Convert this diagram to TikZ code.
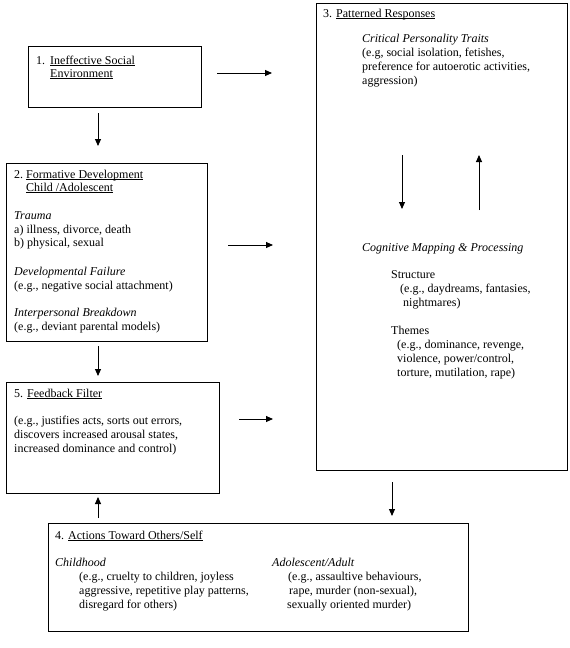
\documentclass[tikz,border=0pt]{standalone}
\usepackage{fontspec}
\setmainfont{Liberation Serif}
\usetikzlibrary{arrows.meta}
\newcommand\myul[1]{\underline{\smash{#1}}}
\begin{document}
\begin{tikzpicture}[x=1pt,y=-1pt,
  box/.style={draw,line width=1.1pt,rectangle,anchor=north west,inner sep=0pt},
  txt/.style={anchor=base west,inner sep=0pt,font=\fontsize{12}{14}\selectfont},
  itx/.style={txt,font=\fontsize{12}{14}\selectfont\itshape},
  arr/.style={line width=0.9pt,-{Triangle[length=7pt,width=6pt]}}]
\useasboundingbox (0,0) rectangle (570,648);
% boxes
\node[box,minimum width=173pt,minimum height=61pt] (b1) at (28,46) {};
\node[box,minimum width=201pt,minimum height=178pt] (b2) at (6,163) {};
\node[box,minimum width=213pt,minimum height=111pt] (b5) at (6,382) {};
\node[box,minimum width=251pt,minimum height=467pt] (b3) at (316,3) {};
\node[box,minimum width=420pt,minimum height=108pt] (b4) at (48,523) {};
% box 1 text
\node[txt] (t1a) at (36,64) {1.};
\node[txt] (t1b) at (50,64) {\myul{Ineffective Social}};
\node[txt] (t1c) at (50,77) {\myul{Environment}};
% box 2 text
\node[txt] (t2a) at (14,178) {2.};
\node[txt] (t2b) at (26,178) {\myul{Formative Development}};
\node[txt] (t2c) at (26,191) {\myul{Child /Adolescent}};
\node[itx] (t2d) at (14,219) {Trauma};
\node[txt] (t2e) at (14,233) {a) illness, divorce, death};
\node[txt] (t2f) at (14,246) {b) physical, sexual};
\node[itx] (t2g) at (14,275) {Developmental Failure};
\node[txt] (t2h) at (14,289) {(e.g., negative social attachment)};
\node[itx] (t2i) at (14,316) {Interpersonal Breakdown};
\node[txt] (t2j) at (14,330) {(e.g., deviant parental models)};
% box 5 text
\node[txt] (t5a) at (14,397) {5. \myul{Feedback Filter}};
\node[txt] (t5b) at (14,424) {(e.g., justifies acts, sorts out errors,};
\node[txt] (t5c) at (14,438) {discovers increased arousal states,};
\node[txt] (t5d) at (14,452) {increased dominance and control)};
% box 3 text
\node[txt] (t3a) at (323,17) {3. \myul{Patterned Responses}};
\node[itx] (t3b) at (362,42) {Critical Personality Traits};
\node[txt] (t3c) at (362,56) {(e.g, social isolation, fetishes,};
\node[txt] (t3d) at (362,70) {preference for autoerotic activities,};
\node[txt] (t3e) at (362,84) {aggression)};
\node[itx] (t3f) at (362,251) {Cognitive Mapping \& Processing};
\node[txt] (t3g) at (391,278) {Structure};
\node[txt] (t3h) at (400,292) {(e.g., daydreams, fantasies,};
\node[txt] (t3i) at (403,306) {nightmares)};
\node[txt] (t3j) at (391,334) {Themes};
\node[txt] (t3k) at (397,348) {(e.g., dominance, revenge,};
\node[txt] (t3l) at (397,362) {violence, power/control,};
\node[txt] (t3m) at (397,376) {torture, mutilation, rape)};
% box 4 text
\node[txt] (t4a) at (55,539) {4. \myul{Actions Toward Others/Self}};
\node[itx] (t4b) at (55,566) {Childhood};
\node[txt] (t4c) at (79,580) {(e.g., cruelty to children, joyless};
\node[txt] (t4d) at (79,594) {aggressive, repetitive play patterns,};
\node[txt] (t4e) at (79,608) {disregard for others)};
\node[itx] (t4f) at (272,566) {Adolescent/Adult};
\node[txt] (t4g) at (288,580) {(e.g., assaultive behaviours,};
\node[txt] (t4h) at (289,594) {rape, murder (non-sexual),};
\node[txt] (t4i) at (287,608) {sexually oriented murder)};
% arrow end points
\coordinate (p1s) at (217,73);  \coordinate (p1e) at (272,73);
\coordinate (p2s) at (98,113);  \coordinate (p2e) at (98,146);
\coordinate (p3s) at (228,245); \coordinate (p3e) at (273,245);
\coordinate (p4s) at (98,346);  \coordinate (p4e) at (98,376);
\coordinate (p5s) at (239,419); \coordinate (p5e) at (273,419);
\coordinate (p6s) at (402,155); \coordinate (p6e) at (402,209);
\coordinate (p7s) at (479,210); \coordinate (p7e) at (479,155);
\coordinate (p8s) at (392,482); \coordinate (p8e) at (392,516);
\coordinate (p9s) at (98,518);  \coordinate (p9e) at (98,497);
\draw[arr] (p1s) -- (p1e);
\draw[arr] (p2s) -- (p2e);
\draw[arr] (p3s) -- (p3e);
\draw[arr] (p4s) -- (p4e);
\draw[arr] (p5s) -- (p5e);
\draw[arr] (p6s) -- (p6e);
\draw[arr] (p7s) -- (p7e);
\draw[arr] (p8s) -- (p8e);
\draw[arr] (p9s) -- (p9e);
\end{tikzpicture}
\end{document}
